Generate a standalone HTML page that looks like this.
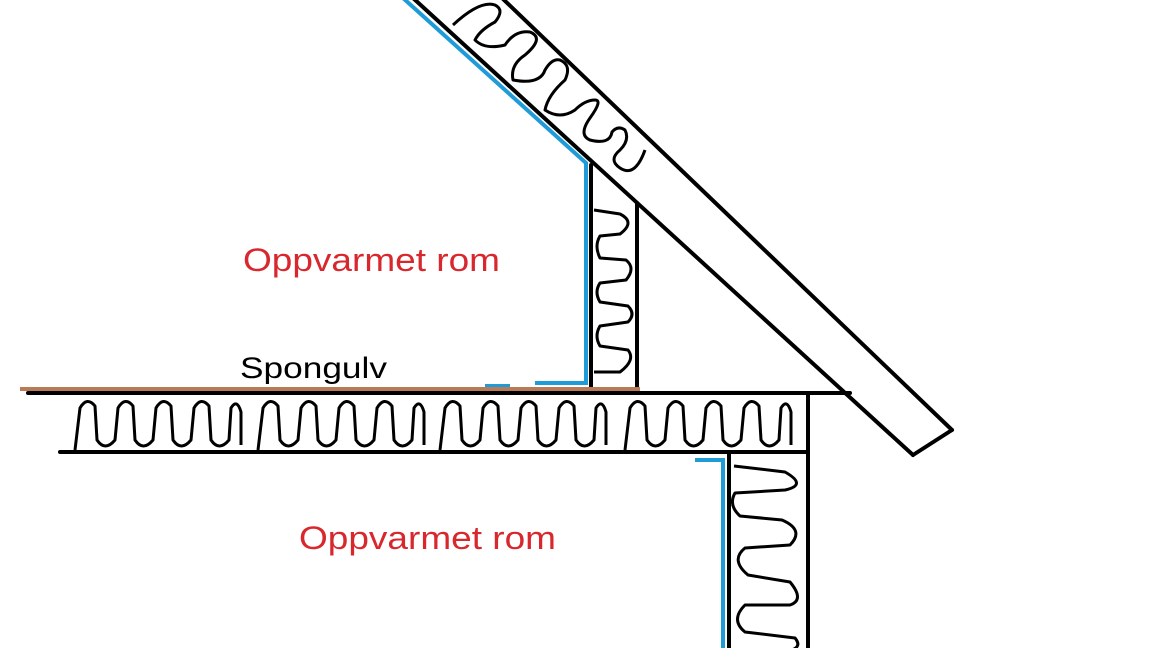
<!DOCTYPE html>
<html><head><meta charset="utf-8"><style>
html,body{margin:0;padding:0;background:#fff;}
svg{display:block;}
</style></head><body>
<svg width="1152" height="648" viewBox="0 0 1152 648" xmlns="http://www.w3.org/2000/svg">
<rect width="1152" height="648" fill="#fff"/>
<g fill="none" stroke="#000" stroke-width="4" stroke-linejoin="round" stroke-linecap="round">
  <line x1="413" y1="-2" x2="913" y2="455"/>
  <line x1="502" y1="-2" x2="952" y2="430"/>
  <line x1="913" y1="455" x2="952" y2="430"/>
  <line x1="591" y1="165" x2="591" y2="388"/>
  <line x1="637" y1="203" x2="637" y2="388"/>
  <line x1="28" y1="393" x2="850" y2="393"/>
  <line x1="60" y1="452" x2="808" y2="452"/>
  <line x1="808" y1="393" x2="808" y2="650"/>
  <line x1="729" y1="452" x2="729" y2="650"/>
</g>
<defs>
  <path id="fg" d="M0,450 L5,408 Q12,396 20,406 L22,440 Q30,452 40,440 L43,408 Q50,396 58,406 L60,440 Q68,452 78,440 L81,408 Q88,396 96,406 L98,440 Q106,452 116,440 L119,408 Q126,396 134,406 L136,440 Q144,452 154,440 L156,408 Q162,398 166,412 L166,445"/>
</defs>
<g fill="none" stroke="#000" stroke-width="3" stroke-linejoin="round">
  <use href="#fg" x="75"/>
  <use href="#fg" x="258"/>
  <use href="#fg" x="440"/>
  <use href="#fg" x="625"/>
  <path d="M594,210 L620,214 Q636,222 620,234 L600,236 Q594,246 600,258 L626,260 Q636,268 626,280 L600,283 Q594,292 600,302 L628,306 Q636,314 628,322 L600,326 Q594,336 600,346 L628,350 Q636,360 620,372 L594,372"/>
  <path d="M734,466 L785,472 Q808,485 785,490 L735,493 Q728,505 740,516 L782,520 Q805,530 790,545 L745,548 Q730,560 748,575 L790,582 Q805,600 790,605 L745,605 Q730,620 745,632 L795,638 Q805,650 780,652 L735,652"/>
  <path d="M453,25 Q480,0 495,5 Q505,10 495,22 Q480,30 475,40 Q485,50 505,45 Q515,30 530,32 Q545,38 525,55 Q510,65 513,80 Q540,85 545,70 Q552,58 560,60 Q572,65 565,80 Q548,95 545,110 Q560,120 575,110 Q585,100 595,100 Q603,100 590,118 Q578,135 590,140 Q610,145 612,132 Q618,125 625,130 Q630,140 620,150 Q608,160 620,168 Q635,178 645,150"/>
</g>
<g fill="none" stroke="#1f9bd7" stroke-width="4" stroke-linejoin="miter">
  <polyline points="403,-2 586,163 586,383 535,383"/>
  <line x1="485" y1="386" x2="510" y2="386"/>
  <polyline points="695,460 723,460 723,650"/>
</g>
<line x1="20" y1="389" x2="640" y2="389" stroke="#b97a57" stroke-width="4"/>
<g font-family="Liberation Sans, sans-serif">
  <text x="243" y="271" font-size="32" fill="#d8282e" textLength="257" lengthAdjust="spacingAndGlyphs">Oppvarmet rom</text>
  <text x="299" y="549" font-size="32" fill="#d8282e" textLength="257" lengthAdjust="spacingAndGlyphs">Oppvarmet rom</text>
  <text x="240" y="378" font-size="30" fill="#000" textLength="147" lengthAdjust="spacingAndGlyphs">Spongulv</text>
</g>
</svg>
</body></html>
